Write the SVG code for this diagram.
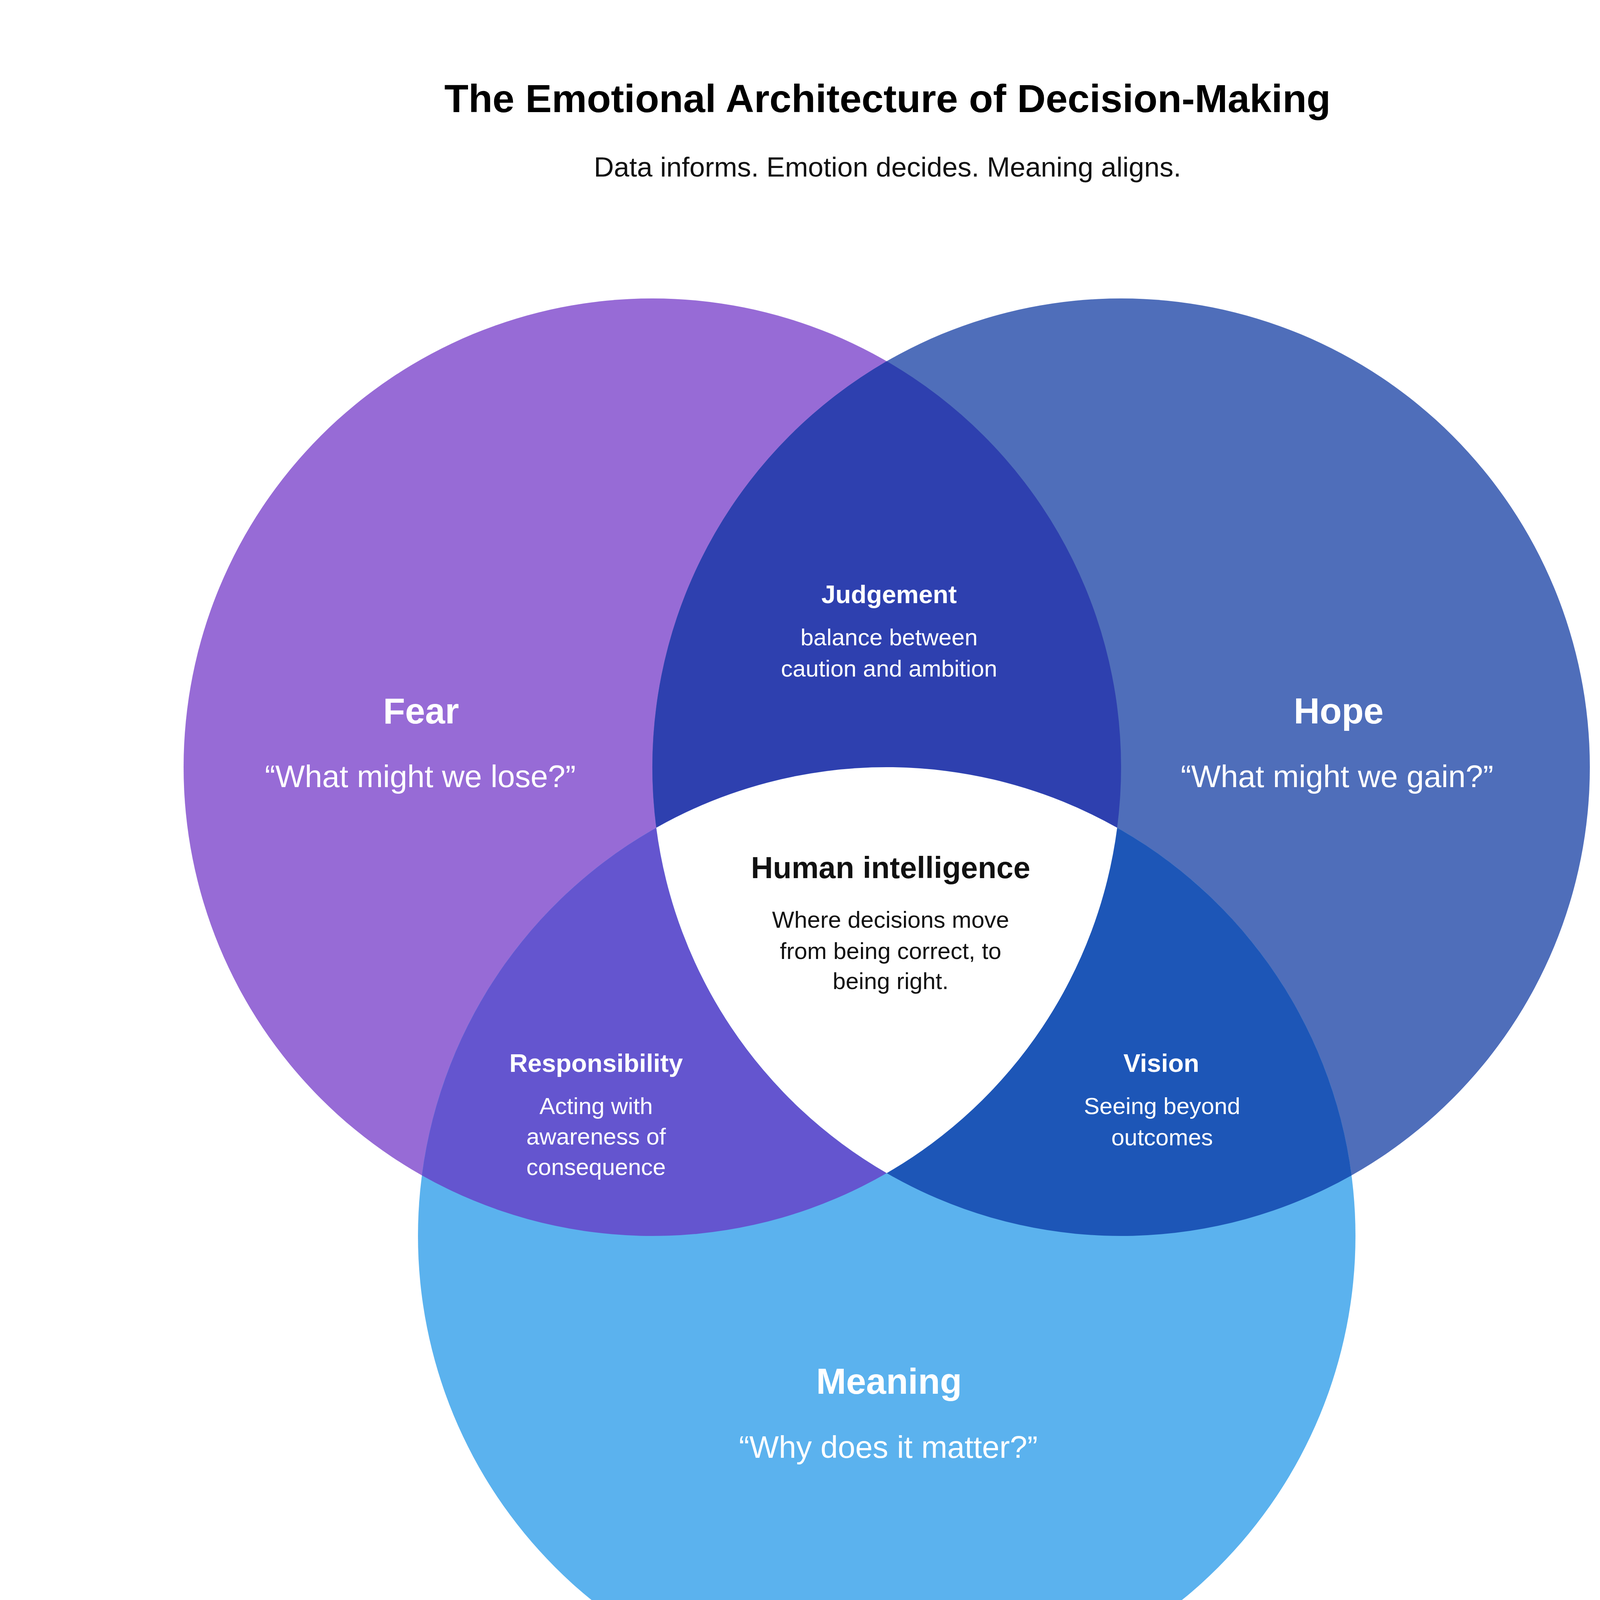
<svg xmlns="http://www.w3.org/2000/svg" width="4540" height="4540" viewBox="0 0 4540 4540">
  <style>
    .title { font-family: "Liberation Sans", Arial, sans-serif; font-weight: 700; font-size: 101px; fill: #000; text-anchor: middle; }
    .sub { font-family: "Liberation Sans", Arial, sans-serif; font-size: 71px; fill: #111; text-anchor: middle; }
    .big { font-family: "Liberation Sans", Arial, sans-serif; font-weight: 700; font-size: 92px; fill: #fff; text-anchor: middle; }
    .quote { font-family: "Liberation Sans", Arial, sans-serif; font-size: 80px; fill: #fff; text-anchor: middle; }
    .head { font-family: "Liberation Sans", Arial, sans-serif; font-weight: 700; font-size: 65px; fill: #fff; text-anchor: middle; }
    .body { font-family: "Liberation Sans", Arial, sans-serif; font-size: 60px; fill: #fff; text-anchor: middle; }
    .dark { fill: #111; }
  </style>
  <rect width="4540" height="4540" fill="#fff"/>
  <g id="title">
    <text class="title" x="2272" y="287">The Emotional Architecture of Decision-Making</text>
    <text class="sub" x="2272" y="452">Data informs. Emotion decides. Meaning aligns.</text>
  </g>
  <g id="fear">
    <circle cx="1670" cy="1964" r="1200" fill="#976BD6"/>
  </g>
  <g id="hope">
    <circle cx="2870" cy="1964" r="1200" fill="#4F6EBA"/>
  </g>
  <g id="meaning">
    <circle cx="2270" cy="3164" r="1200" fill="#5BB2EE"/>
  </g>
  <g id="judgement">
    <path d="M2270 924.8 A1200 1200 0 0 1 2270 3003.2 A1200 1200 0 0 1 2270 924.8 Z" fill="#2E40AF"/>
  </g>
  <g id="responsibility">
    <path d="M2859.96 2119.02 A1200 1200 0 0 1 1080.04 3008.98 A1200 1200 0 0 1 2859.96 2119.02 Z" fill="#6455CF"/>
  </g>
  <g id="vision">
    <path d="M1680.04 2119.02 A1200 1200 0 0 0 3459.96 3008.98 A1200 1200 0 0 0 1680.04 2119.02 Z" fill="#1D56B7"/>
  </g>
  <g id="human-intelligence">
    <path d="M1680.04 2119.02 A1200 1200 0 0 1 2859.96 2119.02 A1200 1200 0 0 1 2270 3003.2 A1200 1200 0 0 1 1680.04 2119.02 Z" fill="#fff"/>
  </g>
  <g id="labels">
    <text class="big" x="1078" y="1852">Fear</text>
    <text class="quote" x="1076" y="2015">“What might we lose?”</text>
    <text class="big" x="3427" y="1852">Hope</text>
    <text class="quote" x="3423" y="2015">“What might we gain?”</text>
    <text class="big" x="2276" y="3568">Meaning</text>
    <text class="quote" x="2274" y="3732">“Why does it matter?”</text>
    <text class="head" x="2276" y="1544">Judgement</text>
    <text class="body" x="2276" y="1652">balance between</text>
    <text class="body" x="2276" y="1732">caution and ambition</text>
    <text class="head dark" x="2280" y="2248" style="font-size:78px">Human intelligence</text>
    <text class="body dark" x="2280" y="2375">Where decisions move</text>
    <text class="body dark" x="2280" y="2455">from being correct, to</text>
    <text class="body dark" x="2280" y="2532">being right.</text>
    <text class="head" x="1526" y="2744">Responsibility</text>
    <text class="body" x="1526" y="2852">Acting with</text>
    <text class="body" x="1526" y="2930">awareness of</text>
    <text class="body" x="1526" y="3008">consequence</text>
    <text class="head" x="2973" y="2744">Vision</text>
    <text class="body" x="2975" y="2852">Seeing beyond</text>
    <text class="body" x="2975" y="2932">outcomes</text>
  </g>
</svg>
